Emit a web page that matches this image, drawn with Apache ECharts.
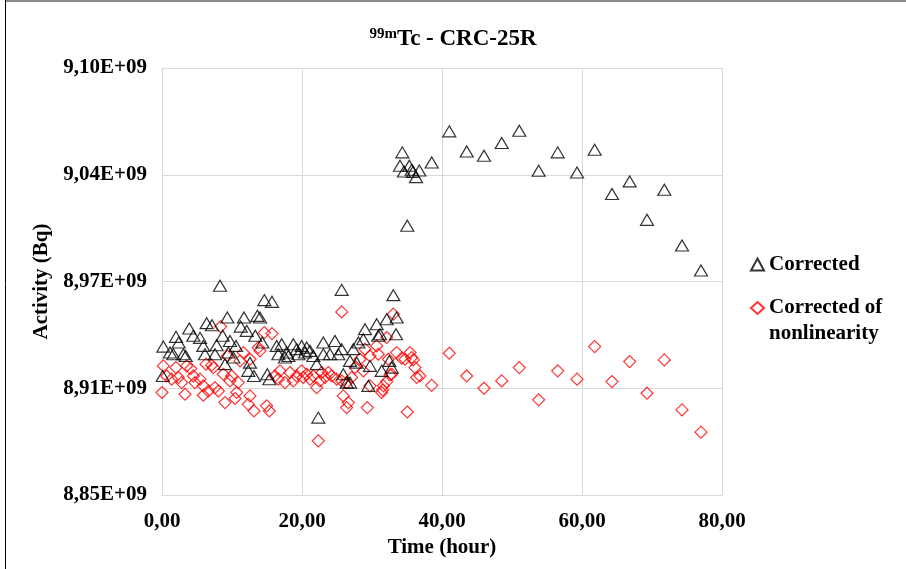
<!DOCTYPE html>
<html>
<head>
<meta charset="utf-8">
<script src="https://cdn.jsdelivr.net/npm/echarts@6/dist/echarts.min.js"></script>
<style>
  html, body { margin: 0; padding: 0; background: #fff; }
  #chart { width: 906px; height: 569px; }
</style>
</head>
<body>
<div id="chart"></div>
<script>
// [time (hour), activity (x 1E+09 Bq)]
const corrected = [
  [8.29, 8.9725], [25.67, 8.9701], [33.05, 8.9670], [14.62, 8.9641], [15.71, 8.9631],
  [9.33, 8.9539], [11.71, 8.9539], [13.62, 8.9549], [14.0, 8.9539], [3.90, 8.9475],
  [6.38, 8.9506], [7.14, 8.9494], [11.24, 8.9486], [12.10, 8.9461], [13.33, 8.9432],
  [14.33, 8.9393], [0.19, 8.9369], [2.0, 8.9426], [2.38, 8.9393], [4.48, 8.9432],
  [5.43, 8.9420], [5.90, 8.9373], [7.81, 8.9377], [8.67, 8.9432], [9.71, 8.9402],
  [10.57, 8.9373], [1.14, 8.9334], [1.62, 8.9324], [3.05, 8.9324], [3.38, 8.9314],
  [6.14, 8.9324], [7.57, 8.9324], [9.48, 8.9334], [10.19, 8.9305], [9.0, 8.9266],
  [12.57, 8.9275], [12.33, 8.9227], [13.14, 8.9197], [15.05, 8.9207], [15.33, 8.9178],
  [0.1, 8.9197], [16.38, 8.9373], [17.10, 8.9383], [17.81, 8.9334], [18.76, 8.9383],
  [19.24, 8.9354], [19.95, 8.9373], [20.67, 8.9363], [21.14, 8.9344], [21.62, 8.9314],
  [17.57, 8.9305], [18.05, 8.9314], [23.05, 8.9393], [24.71, 8.9402], [24.0, 8.9324],
  [25.19, 8.9324], [22.10, 8.9266], [23.05, 8.9324], [27.33, 8.9354], [28.05, 8.9393],
  [28.76, 8.9412], [29.0, 8.9471], [30.67, 8.9500], [30.90, 8.9432], [32.10, 8.9529],
  [33.52, 8.9539], [33.43, 8.9441], [31.14, 8.9441], [26.86, 8.9285], [27.81, 8.9275],
  [29.71, 8.9256], [31.38, 8.9227], [32.48, 8.9285], [32.81, 8.9246], [25.90, 8.9207],
  [26.38, 8.9158], [26.86, 8.9158], [29.48, 8.9139], [22.33, 8.8953], [25.67, 8.9354],
  [16.62, 8.9324], [19.48, 8.9324], [20.43, 8.9334],
  [34.33, 9.0506], [34.0, 9.0428], [35.33, 9.0428], [34.57, 9.0394], [35.67, 9.0404],
  [36.76, 9.0400], [36.29, 9.0361], [35.86, 9.0392], [38.53, 9.0447], [35.04, 9.0076],
  [41.04, 9.0629], [43.53, 9.0511], [46.0, 9.0486], [48.53, 9.0561], [51.04, 9.0633],
  [53.81, 9.0398], [56.53, 9.0506], [59.29, 9.0388], [61.81, 9.0521], [64.29, 9.0262],
  [66.81, 9.0336], [69.29, 9.0111], [71.76, 9.0287], [74.29, 8.9961], [77.0, 8.9814]
];

const correctedNonlin = [
  [25.67, 8.9572], [8.38, 8.9486], [14.62, 8.9451], [15.71, 8.9445], [13.76, 8.9363],
  [14.0, 8.9344], [11.62, 8.9334], [9.33, 8.9314], [0.19, 8.9256], [2.0, 8.9246],
  [3.52, 8.9256], [4.10, 8.9240], [6.29, 8.9266], [7.10, 8.9260], [7.33, 8.9246],
  [11.14, 8.9285], [12.57, 8.9295], [0.67, 8.9197], [1.38, 8.9178], [2.33, 8.9188],
  [2.81, 8.9158], [4.48, 8.9197], [4.71, 8.9158], [5.43, 8.9178], [5.90, 8.9139],
  [6.62, 8.9109], [7.57, 8.9129], [8.05, 8.9109], [8.76, 8.9207], [9.95, 8.9197],
  [9.71, 8.9168], [10.90, 8.9158], [10.67, 8.9100], [0.0, 8.9100], [3.29, 8.9090],
  [5.90, 8.9084], [9.0, 8.9041], [10.43, 8.9065], [12.57, 8.9080], [12.33, 8.9031],
  [13.14, 8.8992], [14.95, 8.9022], [15.33, 8.8992], [16.14, 8.9197], [16.86, 8.9227],
  [17.57, 8.9158], [18.29, 8.9217], [19.24, 8.9197], [19.95, 8.9227], [20.67, 8.9207],
  [21.14, 8.9178], [22.10, 8.9129], [22.57, 8.9168], [23.29, 8.9188], [23.76, 8.9217],
  [24.24, 8.9197], [24.95, 8.9178], [25.67, 8.9168], [26.38, 8.9158], [27.10, 8.9188],
  [25.90, 8.9080], [26.62, 8.9041], [26.38, 8.9012], [29.33, 8.9012], [22.33, 8.8817],
  [27.57, 8.9246], [28.29, 8.9295], [29.0, 8.9354], [29.71, 8.9314], [30.67, 8.9373],
  [30.90, 8.9324], [32.10, 8.9422], [32.33, 8.9295], [32.81, 8.9207], [31.62, 8.9139],
  [31.38, 8.9100], [29.71, 8.9139], [28.76, 8.9227], [33.52, 8.9334], [34.71, 8.9295],
  [35.43, 8.9334], [35.67, 8.9305], [36.14, 8.9246], [36.38, 8.9188], [36.86, 8.9197],
  [33.05, 8.9559], [16.62, 8.9178], [18.76, 8.9168], [20.19, 8.9188], [21.62, 8.9197],
  [22.81, 8.9217], [34.24, 8.9301], [35.9, 8.9291], [32.57, 8.9203], [32.1, 8.9164],
  [31.52, 8.9115],
  [35.04, 8.8986], [38.53, 8.9142],
  [41.04, 8.9330], [43.53, 8.9197], [46.0, 8.9125], [48.53, 8.9168], [51.04, 8.9246],
  [53.81, 8.9057], [56.53, 8.9227], [59.29, 8.9178], [61.81, 8.9369], [64.29, 8.9164],
  [66.81, 8.9281], [69.29, 8.9096], [71.76, 8.9291], [74.29, 8.8998], [77.0, 8.8868]
];

const xMin = 0, xMax = 80, xStep = 20;
const yMin = 8.85, yMax = 9.10, yStep = 0.0625;

const font = '"Liberation Serif", "Times New Roman", serif';
const gridColor = "#d9d9d9";

const chart = echarts.init(document.getElementById("chart"));

const fmtX = (v) => v.toFixed(2).replace(".", ",");
const fmtY = (v) => v.toFixed(2).replace(".", ",") + "E+09";

const boldText = (size) => ({
  fontFamily: font,
  fontWeight: "bold",
  fontSize: size,
  color: "#000",
});

chart.setOption({
  animation: false,
  backgroundColor: "#fff",
  textStyle: { fontFamily: font },
  title: {
    text: "{sup|99m}{main|Tc - CRC-25R}",
    left: "center",
    top: 22,
    textStyle: {
      rich: {
        sup: { ...boldText(15), verticalAlign: "top", padding: [0, 0, 9, 0] },
        main: boldText(23),
      },
    },
  },
  grid: { left: 162, right: 184, top: 68, bottom: 74 },
  legend: [
    {
      data: ["Corrected"],
      orient: "vertical",
      left: 745,
      top: 249,
      selectedMode: false,
      itemWidth: 13,
      itemHeight: 12,
      textStyle: boldText(21),
    },
    {
      data: ["Corrected of nonlinearity"],
      orient: "vertical",
      left: 745,
      top: 264,
      selectedMode: false,
      itemWidth: 13,
      itemHeight: 12,
      formatter: () => "\nCorrected of\nnonlinearity",
      textStyle: { ...boldText(21), lineHeight: 26 },
    },
  ],
  xAxis: {
    type: "value",
    min: xMin,
    max: xMax,
    interval: xStep,
    name: "Time (hour)",
    nameLocation: "middle",
    nameGap: 42,
    nameTextStyle: boldText(21),
    axisLine: { lineStyle: { color: gridColor } },
    axisTick: { show: false },
    axisLabel: { ...boldText(21), margin: 16, formatter: fmtX },
    splitLine: { show: true, lineStyle: { color: gridColor } },
  },
  yAxis: {
    type: "value",
    min: yMin,
    max: yMax,
    interval: yStep,
    name: "Activity (Bq)",
    nameLocation: "middle",
    nameGap: 110,
    nameTextStyle: boldText(21),
    axisLine: { show: true, lineStyle: { color: gridColor } },
    axisTick: { show: false },
    axisLabel: { ...boldText(21), margin: 15, formatter: fmtY },
    splitLine: { show: true, lineStyle: { color: gridColor } },
  },
  graphic: [
    {
      type: "line",
      shape: { x1: 5, y1: 1, x2: 906, y2: 1 },
      style: { stroke: "#8a8a8a", lineWidth: 2 },
      silent: true,
    },
    {
      type: "line",
      shape: { x1: 5.5, y1: 0, x2: 5.5, y2: 569 },
      style: { stroke: "#000", lineWidth: 1 },
      silent: true,
    },
  ],
  series: [
    {
      name: "Corrected",
      type: "scatter",
      symbol: "triangle",
      symbolSize: [13, 11],
      itemStyle: { color: "rgba(0,0,0,0)", borderColor: "#000", borderWidth: 1.2 },
      data: corrected,
      z: 3,
    },
    {
      name: "Corrected of nonlinearity",
      type: "scatter",
      symbol: "diamond",
      symbolSize: 12,
      itemStyle: { color: "rgba(0,0,0,0)", borderColor: "#ff0000", borderWidth: 1.2 },
      data: correctedNonlin,
      z: 2,
    },
  ],
});
</script>
</body>
</html>
